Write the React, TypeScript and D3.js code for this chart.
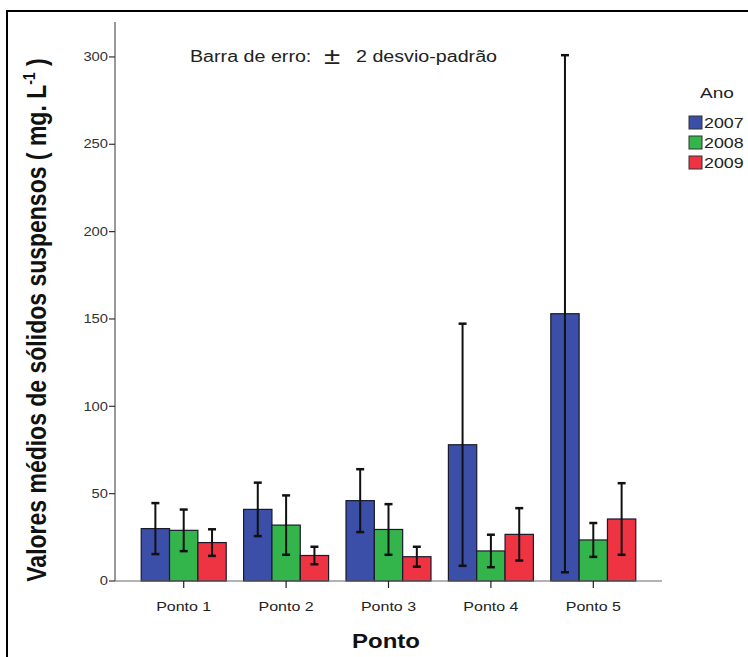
import React from "react";
import * as d3 from "d3";

// Mean suspended solids (mg/L) per sampling point and year, with ±2 SD error bars
const pontos = ["Ponto 1", "Ponto 2", "Ponto 3", "Ponto 4", "Ponto 5"];
const anos = ["2007", "2008", "2009"];
const medias2007 = [30, 41, 46, 78, 153];
const medias2008 = [29, 32, 29.5, 17.2, 23.5];
const medias2009 = [22, 14.6, 13.9, 26.7, 35.5];
const erro2007 = [14.6, 15.3, 18, 69.3, 148];
const erro2008 = [11.9, 17, 14.5, 9.3, 9.7];
const erro2009 = [7.6, 5, 5.7, 15, 20.5];
const yTicks = [0, 50, 100, 150, 200, 250, 300];
const cores = ["#3b4ea8", "#33b54c", "#ee3343"];

const W = 748;
const H = 657;
const axisX = 115;
const axisRight = 662;
const baseY = 581;
const topY = 22;
// text is drawn horizontally widened
const SX = 1.23;

type STProps = {
  x: number;
  y: number;
  size: number;
  anchor?: "start" | "middle" | "end";
  bold?: boolean;
  fill?: string;
  dy?: string;
  children: React.ReactNode;
};

function ST({ x, y, size, anchor = "start", bold = false, fill = "#222", dy, children }: STProps) {
  return (
    <text
      transform={`translate(${x},${y}) scale(${SX},1)`}
      textAnchor={anchor}
      fontSize={size}
      fontWeight={bold ? "bold" : "normal"}
      fill={fill}
      dy={dy}
    >
      {children}
    </text>
  );
}

export default function App() {
  const medias = [medias2007, medias2008, medias2009];
  const erros = [erro2007, erro2008, erro2009];

  const x = d3
    .scaleBand<string>()
    .domain(pontos)
    .range([axisX, axisRight])
    .paddingInner(0.17)
    .paddingOuter(0.256);
  const xs = d3
    .scaleBand<string>()
    .domain(anos)
    .range([0, x.bandwidth()])
    .padding(0);
  const y = d3.scaleLinear().domain([0, 320]).range([baseY, topY]);

  const font = "Arial, 'Liberation Sans', sans-serif";
  const capHalf = 4;

  return (
    <svg
      width={W}
      height={H}
      style={{ position: "absolute", left: 0, top: 0, background: "#fff" }}
      fontFamily={font}
    >
      <rect x={7} y={11} width={W + 20} height={H + 20} fill="none" stroke="#000" strokeWidth={2} />

      {/* y axis */}
      <line x1={axisX} x2={axisX} y1={topY} y2={baseY} stroke="#555" strokeWidth={1.2} />
      {yTicks.map((t) => (
        <g key={t}>
          <line x1={axisX - 6} x2={axisX} y1={y(t)} y2={y(t)} stroke="#333" strokeWidth={1.2} />
          <ST x={axisX - 7} y={y(t)} dy="0.35em" anchor="end" size={12} fill="#333">
            {t}
          </ST>
        </g>
      ))}

      {/* bars */}
      {pontos.map((p, i) => (
        <g key={p} transform={`translate(${x(p)},0)`}>
          {anos.map((a, k) => (
            <rect
              key={a}
              x={xs(a)}
              y={y(medias[k][i])}
              width={xs.bandwidth()}
              height={baseY - y(medias[k][i])}
              fill={cores[k]}
              stroke="#1a1a2a"
              strokeWidth={1.2}
            />
          ))}
        </g>
      ))}

      {/* x axis */}
      <line x1={axisX} x2={axisRight} y1={baseY} y2={baseY} stroke="#666" strokeWidth={1.2} />
      {pontos.map((p) => {
        const cx = (x(p) as number) + x.bandwidth() / 2;
        return (
          <g key={p}>
            <line x1={cx} x2={cx} y1={baseY} y2={baseY + 7} stroke="#222" strokeWidth={1.2} />
            <ST x={cx} y={baseY + 30} anchor="middle" size={13}>
              {p}
            </ST>
          </g>
        );
      })}

      {/* error bars */}
      {pontos.map((p, i) => (
        <g key={p} transform={`translate(${x(p)},0)`}>
          {anos.map((a, k) => {
            const cx = (xs(a) as number) + xs.bandwidth() / 2;
            const hi = y(medias[k][i] + erros[k][i]);
            const lo = y(medias[k][i] - erros[k][i]);
            return (
              <g key={a} stroke="#111" strokeWidth={2}>
                <line x1={cx} x2={cx} y1={hi} y2={lo} />
                <line x1={cx - capHalf} x2={cx + capHalf} y1={hi} y2={hi} strokeWidth={2.5} />
                <line x1={cx - capHalf} x2={cx + capHalf} y1={lo} y2={lo} strokeWidth={2.5} />
              </g>
            );
          })}
        </g>
      ))}

      {/* annotation */}
      <ST x={190} y={62} size={16}>
        Barra de erro:
      </ST>
      <ST x={324} y={64} size={24}>
        ±
      </ST>
      <ST x={356} y={62} size={16}>
        2 desvio-padrão
      </ST>

      {/* axis titles */}
      <ST x={386} y={648} anchor="middle" size={19.5} bold fill="#111">
        Ponto
      </ST>
      <text
        transform={`translate(46, 320) scale(${SX},1) rotate(-90)`}
        textAnchor="middle"
        fontSize={23}
        fontWeight="bold"
        fill="#111"
      >
        Valores médios de sólidos suspensos ( mg. L
        <tspan dy={-9} fontSize={14}>-1</tspan>
        <tspan dy={9}> )</tspan>
      </text>

      {/* legend */}
      <ST x={700} y={98} size={15.5}>
        Ano
      </ST>
      {anos.map((a, k) => (
        <g key={a}>
          <rect
            x={689}
            y={116 + k * 20}
            width={13}
            height={13}
            fill={cores[k]}
            stroke="#333"
            strokeWidth={1}
          />
          <ST x={704} y={122.5 + k * 20} dy="0.36em" size={14.5}>
            {a}
          </ST>
        </g>
      ))}
    </svg>
  );
}
